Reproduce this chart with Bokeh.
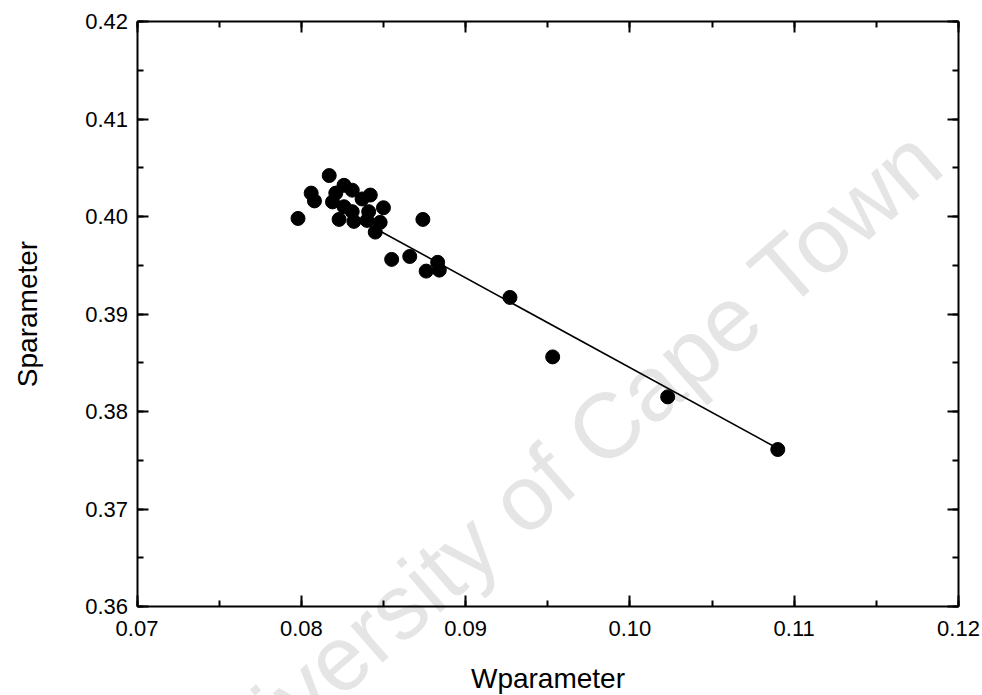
import math

from bokeh.embed import file_html
from bokeh.models import (CustomJSTickFormatter, Label, LinearAxis, Range1d,
                          PrintfTickFormatter, SingleIntervalTicker)
from bokeh.plotting import figure
from bokeh.resources import INLINE

# Measured W and S parameters for each sample
w_param = [0.0798, 0.0806, 0.0808, 0.0817, 0.0819, 0.0821, 0.0823, 0.0826,
           0.0826, 0.0831, 0.0831, 0.0832, 0.0837, 0.0842, 0.0841, 0.0840,
           0.0850, 0.0848, 0.0845, 0.0855, 0.0866, 0.0874, 0.0876, 0.0884,
           0.0883, 0.0927, 0.0953, 0.1023, 0.1090]
s_param = [0.3998, 0.4024, 0.4016, 0.4042, 0.4015, 0.4024, 0.3997, 0.4032,
           0.4010, 0.4027, 0.4005, 0.3995, 0.4018, 0.4022, 0.4005, 0.3996,
           0.4009, 0.3994, 0.3984, 0.3956, 0.3959, 0.3997, 0.3944, 0.3945,
           0.3953, 0.3917, 0.3856, 0.3815, 0.3761]

# Linear fit, drawn between its two end points
fit_w = [0.0835, 0.1089]
fit_s = [0.3997, 0.3763]

# Axis extents of the boxed plot
W_MIN, W_MAX = 0.07, 0.12
S_MIN, S_MAX = 0.36, 0.42

FONT = "Liberation Sans"
WIDTH, HEIGHT = 982, 695
# margins (px) between the canvas edge and the axis box
LEFT, RIGHT, TOP, BOTTOM = 136.5, 24, 21, 89

# The frame fills the whole canvas; the ranges are padded so the axis box
# sits inside it, and the axes are pinned to the box edges.
wpp = (W_MAX - W_MIN) / (WIDTH - LEFT - RIGHT)
spp = (S_MAX - S_MIN) / (HEIGHT - TOP - BOTTOM)
p = figure(
    width=WIDTH, height=HEIGHT,
    x_range=Range1d(W_MIN - LEFT * wpp, W_MAX + RIGHT * wpp),
    y_range=Range1d(S_MIN - BOTTOM * spp, S_MAX + TOP * spp),
    output_backend="svg", toolbar_location=None,
    min_border=0, x_axis_type=None, y_axis_type=None, title=None,
)
p.background_fill_color = "white"
p.border_fill_color = "white"
p.outline_line_color = None

# Faint watermark running across the canvas
p.add_layout(Label(
    x=553, y=471, x_units="canvas", y_units="canvas",
    text="University of Cape Town",
    angle=math.radians(41), text_align="center", text_baseline="middle",
    text_font=FONT, text_font_size="92px", text_color="#e5e5e5",
    level="underlay",
))

p.line(fit_w, fit_s, line_color="black", line_width=1.6)
p.scatter(w_param, s_param, size=14, fill_color="black", line_color="black")

bottom = LinearAxis(axis_label="Wparameter", fixed_location=S_MIN)
top = LinearAxis(fixed_location=S_MAX)
left = LinearAxis(axis_label="Sparameter", fixed_location=W_MIN)
right = LinearAxis(fixed_location=W_MAX)
p.add_layout(bottom, "below")
p.add_layout(top, "above")
p.add_layout(left, "left")
p.add_layout(right, "right")

for ax in (bottom, top):
    ax.ticker = SingleIntervalTicker(interval=0.01, num_minor_ticks=2)
    ax.bounds = (W_MIN, W_MAX)
for ax in (left, right):
    ax.ticker = SingleIntervalTicker(interval=0.01, num_minor_ticks=2)
    ax.bounds = (S_MIN, S_MAX)

for ax in (bottom, top, left, right):
    ax.formatter = PrintfTickFormatter(format="%.2f")
    ax.axis_line_color = "black"
    ax.axis_line_width = 2
    ax.major_tick_in = 11
    ax.major_tick_out = 0
    ax.minor_tick_in = 6
    ax.minor_tick_out = 0
    ax.major_tick_line_width = 2
    ax.minor_tick_line_width = 2
    ax.major_tick_line_color = "black"
    ax.minor_tick_line_color = "black"
    ax.major_label_text_font = FONT
    ax.major_label_text_font_size = "22px"
    ax.major_label_text_color = "black"
    ax.axis_label_text_font = FONT
    ax.axis_label_text_font_size = "28px"
    ax.axis_label_text_font_style = "normal"
    ax.axis_label_text_color = "black"

bottom.major_label_standoff = 14
bottom.axis_label_standoff = 24
left.major_label_standoff = 9
left.axis_label_standoff = 40

for ax in (top, right):
    ax.formatter = CustomJSTickFormatter(code="return ''")
    ax.major_label_standoff = 0

open("out.html", "w").write(file_html(p, INLINE))
